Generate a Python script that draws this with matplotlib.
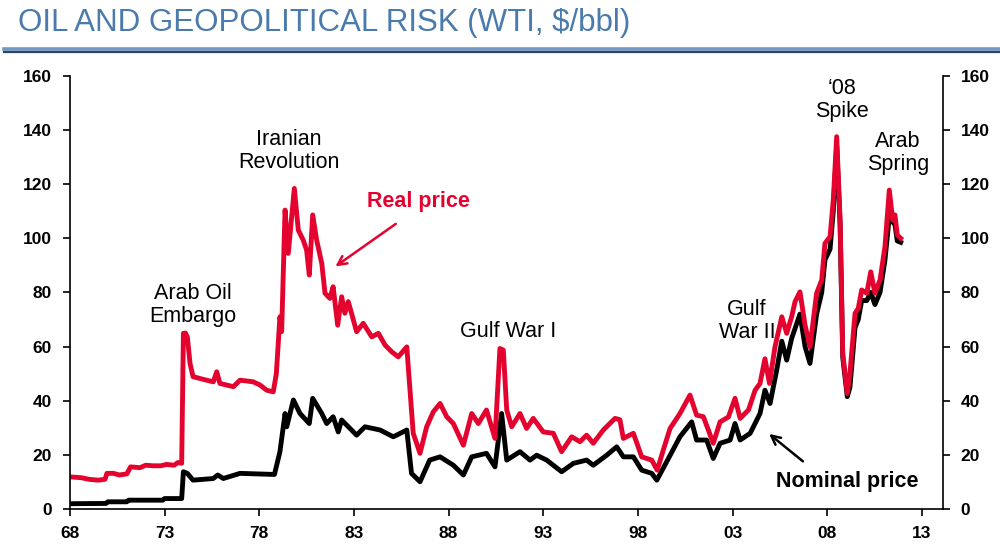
import matplotlib
matplotlib.use("Agg")
import matplotlib.pyplot as plt
from matplotlib.lines import Line2D

plt.rcParams['font.family'] = ['Liberation Sans', 'DejaVu Sans']

# real price (red)
real_years = [1968.0, 1968.6, 1969.0, 1969.5, 1969.85, 1969.95, 1970.3, 1970.6, 1971.0, 1971.2,
              1971.7, 1972.0, 1972.4, 1972.8, 1973.1, 1973.5, 1973.7, 1973.9, 1973.99, 1974.1,
              1974.2, 1974.34, 1974.5, 1975.04, 1975.57, 1975.75, 1975.92, 1976.63, 1976.98, 1977.68, 1978.04,
              1978.39, 1978.74, 1978.9, 1979.09, 1979.18, 1979.36, 1979.53, 1979.71, 1979.85, 1980.06,
              1980.32, 1980.5, 1980.64, 1980.82, 1981.03, 1981.3, 1981.47, 1981.73, 1981.9, 1982.14,
              1982.35, 1982.52, 1982.7, 1983.14, 1983.49, 1983.94, 1984.29, 1984.64, 1984.99, 1985.34,
              1985.79, 1986.13, 1986.49, 1986.84, 1987.19, 1987.55, 1987.9, 1988.25, 1988.78, 1989.22,
              1989.57, 1990.0, 1990.45, 1990.71, 1990.89, 1991.07, 1991.33, 1991.77, 1992.12, 1992.47,
              1993.0, 1993.53, 1993.97, 1994.5, 1994.94, 1995.29, 1995.64, 1996.17, 1996.79, 1997.05,
              1997.23, 1997.76, 1998.2, 1998.73, 1999.02, 1999.34, 1999.7, 2000.22, 2000.75, 2001.1,
              2001.46, 2001.98, 2002.34, 2002.78, 2003.13, 2003.4, 2003.84, 2004.19, 2004.45, 2004.71,
              2004.95, 2005.24, 2005.6, 2005.86, 2006.12, 2006.3, 2006.56, 2006.83, 2007.09, 2007.44,
              2007.71, 2007.88, 2008.15, 2008.32, 2008.5, 2008.68, 2008.82, 2009.06, 2009.2, 2009.47,
              2009.64, 2009.82, 2010.09, 2010.3, 2010.52, 2010.79, 2011.05, 2011.28, 2011.46, 2011.58,
              2011.7, 2011.88]
real_vals = [11.9, 11.6, 11.0, 10.7, 11.0, 13.2, 13.2, 12.6, 13.0, 15.6,
             15.3, 16.2, 16.0, 16.0, 16.5, 16.2, 17.2, 16.9, 64.9, 65.0,
             63.5, 53.8, 48.9, 47.9, 47.0, 50.7, 46.4, 45.2, 47.6, 47.0, 45.8,
             43.9, 43.3, 50.1, 71.0, 65.5, 110.4, 94.4, 107.9, 118.4, 103.0,
             99.3, 95.6, 86.4, 108.6, 99.3, 90.7, 79.7, 77.8, 82.1, 67.9,
             78.4, 72.3, 76.6, 65.5, 68.6, 63.6, 64.9, 60.6, 58.1, 56.2,
             59.9, 28.0, 20.6, 30.4, 35.9, 39.0, 34.1, 31.6, 23.6, 35.3,
             31.6, 36.6, 26.1, 59.3, 58.7, 36.6, 30.4, 35.3, 29.8, 33.5,
             28.5, 28.0, 21.2, 26.7, 24.9, 27.3, 24.3, 29.2, 33.5, 33.0,
             26.1, 28.0, 19.3, 18.1, 14.4, 21.8, 29.8, 35.3, 42.1, 34.7,
             34.1, 24.3, 32.2, 34.0, 40.9, 33.5, 36.6, 43.9, 46.4, 55.5,
             46.4, 59.9, 71.0, 64.9, 71.0, 76.6, 80.2, 67.9, 59.9, 79.7,
             84.6, 98.1, 100.6, 114.1, 137.5, 106.7, 57.5, 42.7, 50.1, 72.3,
             74.1, 80.9, 79.7, 87.6, 79.7, 84.6, 96.9, 117.8, 106.7, 108.6,
             101.2, 100.0]

# nominal price (black)
nom_years = [1968.0, 1969.9, 1970.0, 1971.0, 1971.1, 1972.9, 1973.0, 1973.9, 1973.99, 1974.2,
             1974.5, 1975.57, 1975.8, 1976.1, 1976.98, 1978.8, 1979.09, 1979.36, 1979.45, 1979.8,
             1980.15, 1980.64, 1980.82, 1981.3, 1981.56, 1981.9, 1982.17, 1982.35, 1983.14, 1983.58,
             1984.38, 1985.08, 1985.79, 1986.04, 1986.49, 1987.0, 1987.55, 1988.25, 1988.78, 1989.22,
             1990.0, 1990.45, 1990.8, 1991.07, 1991.77, 1992.3, 1992.65, 1993.18, 1993.97, 1994.59,
             1995.29, 1995.64, 1996.35, 1996.88, 1997.23, 1997.76, 1998.2, 1998.73, 1999.0, 1999.52,
             2000.22, 2000.84, 2001.1, 2001.63, 2001.98, 2002.34, 2002.87, 2003.13, 2003.4, 2003.93,
             2004.45, 2004.71, 2004.98, 2005.33, 2005.6, 2005.86, 2006.12, 2006.56, 2006.83, 2007.09,
             2007.44, 2007.71, 2007.88, 2008.15, 2008.32, 2008.5, 2008.68, 2008.82, 2009.06, 2009.2,
             2009.47, 2009.64, 2009.82, 2010.09, 2010.3, 2010.52, 2010.79, 2011.05, 2011.28, 2011.46,
             2011.58, 2011.7, 2011.88]
nom_vals = [2.0, 2.1, 2.7, 2.7, 3.3, 3.3, 3.9, 3.9, 13.8, 13.2,
            10.7, 11.3, 12.6, 11.3, 13.2, 12.8, 21.2, 35.3, 30.4, 40.3,
            35.3, 31.6, 40.9, 35.3, 31.6, 34.1, 28.5, 32.9, 27.3, 30.4,
            29.2, 26.7, 29.2, 13.2, 10.1, 18.1, 19.3, 16.2, 12.6, 19.3,
            20.6, 15.6, 35.3, 18.1, 21.2, 18.1, 19.9, 18.1, 13.8, 16.9,
            18.1, 16.2, 19.9, 23.0, 19.3, 19.3, 14.4, 13.2, 10.7, 17.5,
            26.7, 32.2, 25.5, 25.5, 18.7, 24.3, 25.5, 31.6, 25.5, 28.0,
            35.3, 43.9, 39.0, 51.3, 62.0, 55.0, 63.0, 72.0, 60.0, 53.8,
            72.0, 80.0, 92.0, 96.0, 110.0, 134.0, 105.0, 56.0, 41.5, 45.0,
            67.0, 70.0, 77.0, 77.0, 80.0, 75.5, 80.0, 92.0, 108.0, 106.0,
            105.0, 99.0, 98.5]

tick_years = [1968, 1973, 1978, 1983, 1988, 1993, 1998, 2003, 2008, 2013]
tick_labels = ['68', '73', '78', '83', '88', '93', '98', '03', '08', '13']

RED = '#e4032e'

fig = plt.figure(figsize=(10, 5.51), dpi=100)
ax = fig.add_axes([0.07, 0.076, 0.8727, 0.7866])

ax.plot(nom_years, nom_vals, color='black', lw=3.5, solid_joinstyle='round')
ax.plot(real_years, real_vals, color=RED, lw=3.5, solid_joinstyle='round')

ax.set_xlim(1968, 2014.1)
ax.set_ylim(0, 160)
ax.set_xticks(tick_years)
ax.set_xticklabels(tick_labels)
ax.set_yticks(range(0, 161, 20))
ax.spines['top'].set_visible(False)
for s in ['left', 'right', 'bottom']:
    ax.spines[s].set_linewidth(1.2)
ax.tick_params(axis='y', left=True, right=True, labelleft=True, labelright=True,
               direction='out', length=5, width=1.2, pad=8, labelsize=12.5)
ax.tick_params(axis='x', direction='out', length=5, width=1.2, pad=7, labelsize=12.5)
for lab in ax.get_xticklabels() + ax.get_yticklabels():
    lab.set_fontweight('bold')
for t in ax.yaxis.get_major_ticks():
    t.label2.set_fontweight('bold')

# event labels
fs = 15.5
ax.text(1974.5, 75.3, 'Arab Oil\nEmbargo', ha='center', va='center', fontsize=fs, linespacing=1.15)
ax.text(1979.57, 132.2, 'Iranian\nRevolution', ha='center', va='center', fontsize=fs, linespacing=1.15)
ax.text(1991.14, 65.4, 'Gulf War I', ha='center', va='center', fontsize=fs)
ax.text(2003.76, 69.4, 'Gulf\nWar II', ha='center', va='center', fontsize=fs, linespacing=1.15)
ax.text(2008.78, 151, '\u201808\nSpike', ha='center', va='center', fontsize=fs, linespacing=1.1)
ax.text(2011.74, 131.5, 'Arab\nSpring', ha='center', va='center', fontsize=fs, linespacing=1.15)

ax.text(1986.38, 113.7, 'Real price', ha='center', va='center', fontsize=fs,
        fontweight='bold', color=RED)
ax.annotate('', xy=(1981.9, 89.0), xytext=(1985.33, 105.9),
            arrowprops=dict(arrowstyle='->', color=RED, lw=1.8, mutation_scale=16))
ax.text(2009.05, 10.3, 'Nominal price', ha='center', va='center', fontsize=fs,
        fontweight='bold', color='black')
ax.annotate('', xy=(2004.82, 28.4), xytext=(2006.83, 17.0),
            arrowprops=dict(arrowstyle='->', color='black', lw=1.8, mutation_scale=16))

# title and rule
fig.text(0.018, 0.958, 'OIL AND GEOPOLITICAL RISK (WTI, $/bbl)', ha='left', va='center',
         fontsize=22.5, color='#4b7bac')
fig.add_artist(Line2D([0.004, 1.0], [1 - 48.5 / 551, 1 - 48.5 / 551], color='#7199c4', lw=2.6))
fig.add_artist(Line2D([0.004, 1.0], [1 - 51.5 / 551, 1 - 51.5 / 551], color='#2d4762', lw=1.6))

fig.savefig('out.png', dpi=100)
